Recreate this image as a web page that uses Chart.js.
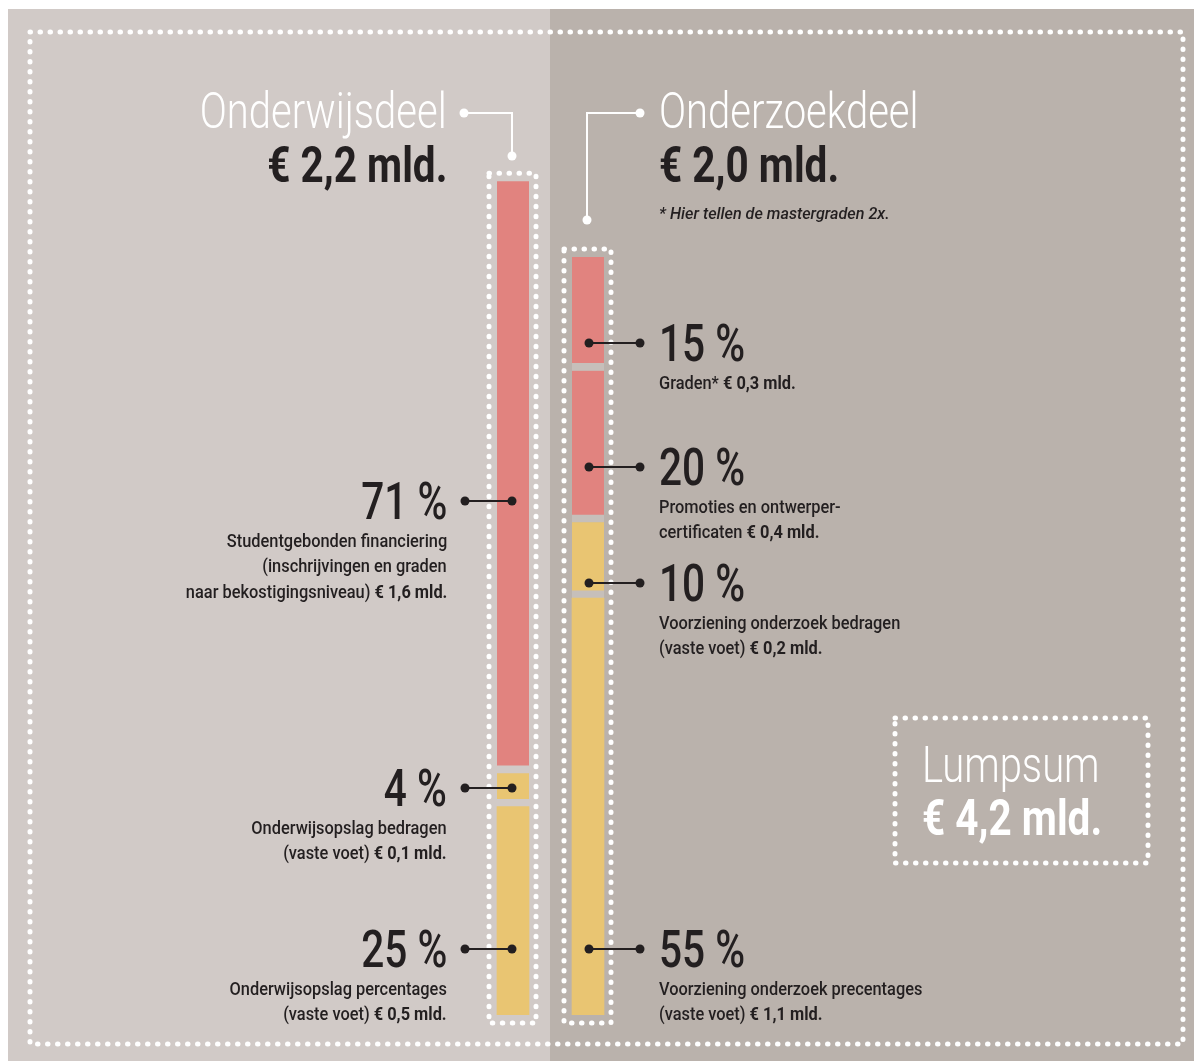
<!DOCTYPE html>
<html lang="nl">
<head>
<meta charset="utf-8">
<title>Lumpsum</title>
<script src="https://cdn.jsdelivr.net/npm/chart.js@4.4.1/dist/chart.umd.min.js"></script>
<style>
  html, body { margin: 0; padding: 0; background: #fff; }
  #page { position: relative; width: 1194px; height: 1061px; overflow: hidden; font-family: Roboto, "Noto Sans", sans-serif; }
  .panel { position: absolute; top: 9px; height: 1052px; }
  #chart { position: absolute; left: 0; top: 0; }
  .t { position: absolute; white-space: nowrap; line-height: 1; }
  .t.r { transform-origin: right center; }
  .t.l { transform-origin: left center; }
  .t b { font-weight: 700; }
</style>
</head>
<body>
<div id="page">
  <div class="panel" style="left:8px;width:542px;background:#d1cac7"></div>
  <div class="panel" style="left:550px;width:644px;background:#bab2ac"></div>
  <canvas id="chart" width="1194" height="1061"></canvas>
  <div id="texts"></div>
</div>
<script>
// data, top -> bottom as in the picture
const partNames = ['Onderwijsdeel', 'Onderzoekdeel'];
const partTotals = [2.2, 2.0];
const partTotalLabels = ['€ 2,2 mld.', '€ 2,0 mld.'];
const lumpsumLabel = '€ 4,2 mld.';

const onderwijsShares = [71, 4, 25];
const onderwijsKind = ['student', 'vast', 'vast'];
const onderwijsAmounts = ['€ 1,6 mld.', '€ 0,1 mld.', '€ 0,5 mld.'];
const onderwijsLines = [
  ['Studentgebonden financiering', '(inschrijvingen en graden', 'naar bekostigingsniveau)'],
  ['Onderwijsopslag bedragen', '(vaste voet)'],
  ['Onderwijsopslag percentages', '(vaste voet)']
];

const onderzoekShares = [15, 20, 10, 55];
const onderzoekKind = ['student', 'student', 'vast', 'vast'];
const onderzoekAmounts = ['€ 0,3 mld.', '€ 0,4 mld.', '€ 0,2 mld.', '€ 1,1 mld.'];
const onderzoekLines = [
  ['Graden*'],
  ['Promoties en ontwerper-', 'certificaten'],
  ['Voorziening onderzoek bedragen', '(vaste voet)'],
  ['Voorziening onderzoek precentages', '(vaste voet)']
];
const footnote = '* Hier tellen de mastergraden 2x.';

// layout
const W = 1194;
const colors = { student: '#e1837f', vast: '#e9c572' };
const gapColors = ['#d1cac7', '#c6bfba'];
const dark = '#231f20';
const leftLabelY = [501, 788, 949];
const rightLabelY = [343, 467, 583, 949];

// stack bottom-up
const ow = onderwijsShares.slice().reverse();
const oz = onderzoekShares.slice().reverse();
const owK = onderwijsKind.slice().reverse();
const ozK = onderzoekKind.slice().reverse();
const n = Math.max(ow.length, oz.length);
const datasets = [];
for (let i = 0; i < n; i++) {
  datasets.push({
    label: 'segment ' + i,
    data: [
      ow[i] != null ? partTotals[0] * ow[i] / 100 : null,
      oz[i] != null ? partTotals[1] * oz[i] / 100 : null
    ],
    backgroundColor: [colors[owK[i]], colors[ozK[i]]],
    borderColor: gapColors,
    borderWidth: i === 0 ? 0 : { top: 0, right: 0, bottom: 8, left: 0 },
    borderSkipped: false,
    barThickness: 32
  });
}

function dottedRect(ctx, x, y, w, h) {
  ctx.save();
  ctx.strokeStyle = '#fff';
  ctx.lineWidth = 5;
  ctx.lineCap = 'round';
  ctx.setLineDash([0.5, 9.5]);
  ctx.strokeRect(x, y, w, h);
  ctx.restore();
}

function dot(ctx, x, y, r) {
  ctx.beginPath();
  ctx.arc(x, y, r, 0, Math.PI * 2);
  ctx.fill();
}

const decor = {
  id: 'decor',
  afterDatasetsDraw(chart) {
    const ctx = chart.ctx;
    const xs = chart.scales.x, ys = chart.scales.y;
    const base = ys.getPixelForValue(0);

    dottedRect(ctx, 30, 32, 1153, 1012);
    dottedRect(ctx, 895, 718, 253, 145);
    const cx = [];
    for (let i = 0; i < partTotals.length; i++) {
      cx[i] = xs.getPixelForValue(i);
      const top = ys.getPixelForValue(partTotals[i]);
      dottedRect(ctx, cx[i] - 24, top - 8, 47, base - top + 16);
    }

    // title connectors
    ctx.save();
    ctx.strokeStyle = '#fff';
    ctx.fillStyle = '#fff';
    ctx.lineWidth = 2;
    ctx.beginPath();
    ctx.moveTo(464, 113); ctx.lineTo(cx[0] - 1, 113); ctx.lineTo(cx[0] - 1, 156);
    ctx.stroke();
    dot(ctx, 464, 113, 4.5); dot(ctx, cx[0] - 1, 156, 4.5);
    ctx.beginPath();
    ctx.moveTo(640, 113); ctx.lineTo(cx[1] - 1, 113); ctx.lineTo(cx[1] - 1, 220);
    ctx.stroke();
    dot(ctx, 640, 113, 4.5); dot(ctx, cx[1] - 1, 220, 4.5);

    // label connectors
    ctx.strokeStyle = dark;
    ctx.fillStyle = dark;
    leftLabelY.forEach(y => {
      ctx.beginPath(); ctx.moveTo(465, y); ctx.lineTo(cx[0] - 1, y); ctx.stroke();
      dot(ctx, 465, y, 4.5); dot(ctx, cx[0] - 1, y, 4.5);
    });
    rightLabelY.forEach(y => {
      ctx.beginPath(); ctx.moveTo(cx[1] + 1, y); ctx.lineTo(640, y); ctx.stroke();
      dot(ctx, cx[1] + 1, y, 4.5); dot(ctx, 640, y, 4.5);
    });
    ctx.restore();
  }
};

new Chart(document.getElementById('chart'), {
  type: 'bar',
  data: { labels: partNames, datasets: datasets },
  options: {
    responsive: false,
    animation: false,
    layout: { padding: { left: 475.5, right: 568.5, top: 67.5, bottom: 46 } },
    plugins: { legend: { display: false }, tooltip: { enabled: false }, title: { display: false } },
    scales: {
      x: { stacked: true, display: false },
      y: { stacked: true, display: false, min: 0, max: 2.5 }
    }
  },
  plugins: [decor]
});

// texts
const styles = {
  title: { size: 50, weight: 300, color: '#fff', sx: 0.8 },
  total: { size: 50, weight: 700, color: dark, sx: 0.81 },
  pct: { size: 52, weight: 500, color: dark, sx: 0.78 },
  small: { size: 18, weight: 500, color: dark, sx: 0.91 },
  note: { size: 17, weight: 500, color: dark, sx: 0.95, italic: true }
};
const box = document.getElementById('texts');
function esc(s) { return s.replace(/&/g, '&amp;').replace(/</g, '&lt;'); }
function addText(html, x, baseline, st, align, color) {
  const el = document.createElement('div');
  el.className = 't ' + (align === 'right' ? 'r' : 'l');
  el.innerHTML = html;
  el.style.fontSize = st.size + 'px';
  el.style.fontWeight = st.weight;
  el.style.color = color || st.color;
  if (st.italic) el.style.fontStyle = 'italic';
  el.style.top = (baseline - 0.8415 * st.size) + 'px';
  if (align === 'right') el.style.right = (W - x) + 'px';
  else el.style.left = x + 'px';
  el.style.transform = 'scaleX(' + st.sx + ')';
  box.appendChild(el);
}

addText(esc(partNames[0]), 447, 128, styles.title, 'right');
addText(esc(partTotalLabels[0]), 447, 182, styles.total, 'right');
addText(esc(partNames[1]), 659, 128, styles.title, 'left');
addText(esc(partTotalLabels[1]), 659, 182, styles.total, 'left');
addText(esc(footnote), 659, 219, styles.note, 'left');
addText('Lumpsum', 922, 782, styles.title, 'left');
addText(esc(lumpsumLabel), 922, 835, styles.total, 'left', '#fff');

function addLabel(share, lines, amount, cy, x, align) {
  addText(share + ' %', x, cy + 19, styles.pct, align);
  lines.forEach((line, j) => {
    let html = esc(line);
    if (j === lines.length - 1) html += ' <b>' + esc(amount) + '</b>';
    addText(html, x, cy + 46 + j * 25.5, styles.small, align);
  });
}
onderwijsShares.forEach((s, i) => addLabel(s, onderwijsLines[i], onderwijsAmounts[i], leftLabelY[i], 447, 'right'));
onderzoekShares.forEach((s, i) => addLabel(s, onderzoekLines[i], onderzoekAmounts[i], rightLabelY[i], 659, 'left'));
</script>
</body>
</html>
